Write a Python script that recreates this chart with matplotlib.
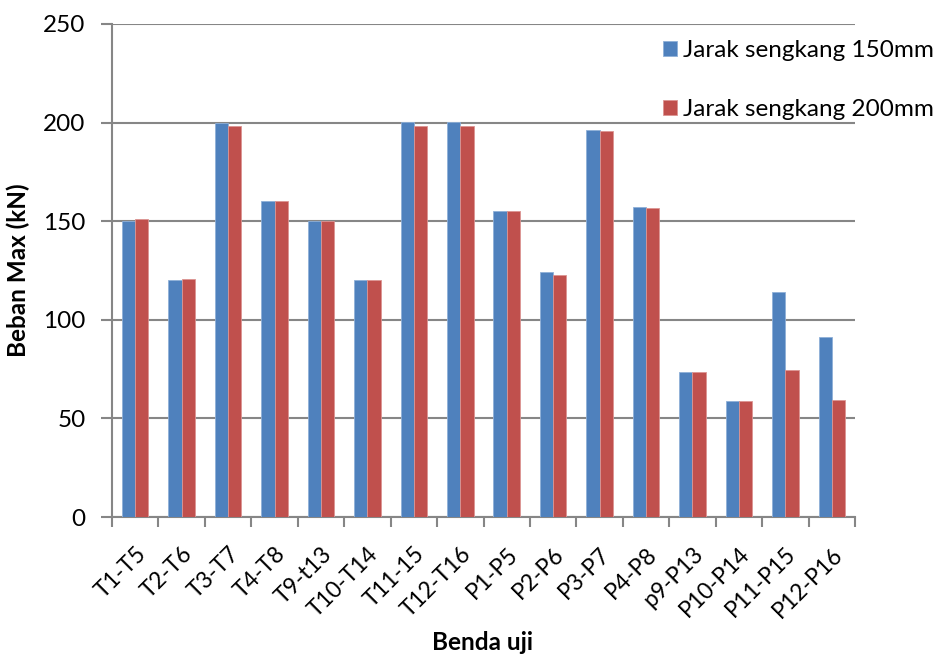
import numpy as np
import matplotlib
matplotlib.use("Agg")
import matplotlib.pyplot as plt
from matplotlib.ticker import FixedLocator

plt.rcParams['font.family'] = ['Lato', 'DejaVu Sans']

categories = ["T1-T5", "T2-T6", "T3-T7", "T4-T8", "T9-t13", "T10-T14", "T11-15", "T12-T16",
              "P1-P5", "P2-P6", "P3-P7", "P4-P8", "p9-P13", "P10-P14", "P11-P15", "P12-P16"]
jarak_150 = [150, 120.2, 200, 160, 150, 120, 200.5, 200.5,
             155.4, 124.3, 196.1, 157, 73.5, 58.8, 114.2, 91.3]
jarak_200 = [151, 120.9, 198.2, 160, 150, 120, 198.5, 198.5,
             155.4, 122.9, 195.6, 156.5, 73.5, 58.8, 74.4, 59.5]
series_labels = ["Jarak sengkang 150mm", "Jarak sengkang 200mm"]
y_ticks = [0, 50, 100, 150, 200, 250]

W, H = 939, 657
FS = 17.5
fig = plt.figure(figsize=(W / 100, H / 100), dpi=100)
ax = fig.add_axes([112 / W, 1 - 517 / H, (855 - 112) / W, (517 - 24) / H])

x = np.arange(len(categories))
bw = 1 / 3.5
blue, red = "#4F81BD", "#C0504D"
b1 = ax.bar(x - bw / 2, jarak_150, bw, color=blue, edgecolor="#8fb0d8", linewidth=0.6,
            label=series_labels[0], zorder=3)
b2 = ax.bar(x + bw / 2, jarak_200, bw, color=red, edgecolor="#dc9593", linewidth=0.6,
            label=series_labels[1], zorder=3)

grid_c = "#868686"
ax.set_xlim(-0.5, len(categories) - 0.5)
ax.set_ylim(0, 250)
ax.set_yticks(y_ticks)
ax.yaxis.grid(True, color=grid_c, linewidth=1.5, zorder=0)
ax.set_axisbelow(True)
for s in ["top", "right"]:
    ax.spines[s].set_visible(False)
for s in ["left", "bottom"]:
    ax.spines[s].set_color(grid_c)
    ax.spines[s].set_linewidth(1.5)

ax.tick_params(axis="y", direction="out", length=8, width=1.5, color=grid_c,
               labelsize=FS, pad=11)
ax.set_xticks(x)
ax.set_xticklabels(categories, rotation=45, ha="right", rotation_mode="anchor",
                   fontsize=16.5)
ax.tick_params(axis="x", which="major", length=0, pad=19)
ax.xaxis.set_minor_locator(FixedLocator(np.arange(-0.5, len(categories), 1.0)))
ax.tick_params(axis="x", which="minor", direction="out", length=7, width=1.5, color=grid_c)

ax.set_ylabel("Beban Max (kN)", fontsize=FS, fontweight="bold")
ax.yaxis.set_label_coords(-82 / (855 - 112), 0.5)
fig.text(483 / W, 1 - 643 / H, "Benda uji", ha="center", va="center",
         fontsize=FS, fontweight="bold")

leg = fig.legend(handles=[b1, b2], labels=series_labels, loc="upper left",
                 bbox_to_anchor=(663 / W, 1 - 40 / H), frameon=False,
                 fontsize=FS, handlelength=0.58, handleheight=0.58,
                 handletextpad=0.25, labelspacing=1.56, borderpad=0,
                 borderaxespad=0)

fig.savefig("out.png", dpi=100)
